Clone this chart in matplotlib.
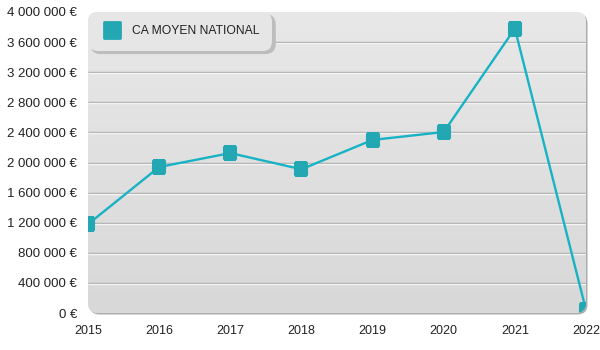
import numpy as np
import matplotlib
matplotlib.use('Agg')
import matplotlib.pyplot as plt
from matplotlib.patches import FancyBboxPatch
from matplotlib.markers import MarkerStyle
from matplotlib.lines import Line2D
from matplotlib.ticker import FuncFormatter
import matplotlib.transforms as mtrans

plt.rcParams['font.family'] = ['Liberation Sans', 'DejaVu Sans']

# CA moyen national par annee
years = [2015, 2016, 2017, 2018, 2019, 2020, 2021, 2022]
ca = [1180000, 1940000, 2125000, 1910000, 2300000, 2405000, 3780000, 40000]
yticks = [0, 400000, 800000, 1200000, 1600000, 2000000, 2400000,
          2800000, 3200000, 3600000, 4000000]
label = 'CA MOYEN NATIONAL'

line_col = '#17b3c5'
mark_col = '#23a8b3'
txt_col = '#222222'

W, H = 600, 350
fig = plt.figure(figsize=(W/100, H/100), dpi=100)
fig.patch.set_facecolor('white')

# axes box in pixels
x0, x1, y0, y1 = 88, 586, 12, 313
ax = fig.add_axes([x0/W, 1-y1/H, (x1-x0)/W, (y1-y0)/H])
ax.set_xlim(2015, 2022)
ax.set_ylim(0, 4000000)
ax.set_frame_on(False)
ax.patch.set_visible(False)

aw, ah = x1-x0, y1-y0
r = 10/aw
# drop shadow behind the rounded plot area
shadow = FancyBboxPatch((0, 0), 1, 1, boxstyle='round,pad=0,rounding_size=%g' % r,
                        mutation_aspect=aw/ah, transform=ax.transAxes + mtrans.ScaledTranslation(1.5/100, -1.5/100, fig.dpi_scale_trans),
                        facecolor='#acacac', edgecolor='none', zorder=0, clip_on=False)
ax.add_patch(shadow)
bg = FancyBboxPatch((0, 0), 1, 1, boxstyle='round,pad=0,rounding_size=%g' % r,
                    mutation_aspect=aw/ah, transform=ax.transAxes,
                    facecolor='#e0e0e0', edgecolor='none', zorder=0.5, clip_on=False)
ax.add_patch(bg)

# vertical gradient fill, light at the top
grad = np.linspace(0, 1, 256).reshape(-1, 1)
cmap = matplotlib.colors.LinearSegmentedColormap.from_list('bg', ['#e8e8e8', '#d8d8d8'])
im = ax.imshow(grad, extent=(2015, 2022, 0, 4000000), origin='upper', aspect='auto',
               cmap=cmap, zorder=1, interpolation='bilinear')
im.set_clip_path(bg)

# embossed grid lines
down1 = ax.transData + mtrans.ScaledTranslation(0, -1/100, fig.dpi_scale_trans)
for v in yticks[1:-1]:
    ax.plot([2015, 2022], [v, v], color='#a9a9a9', lw=1, zorder=2, solid_capstyle='butt')
    ax.plot([2015, 2022], [v, v], color='#f4f4f4', lw=1, zorder=2, transform=down1,
            solid_capstyle='butt')

msq = MarkerStyle('s', joinstyle='round')
ln, = ax.plot(years, ca, color=line_col, lw=1.7, zorder=3,
              marker=msq, ms=8, mfc=mark_col, mec=mark_col, mew=1.5)
ln.set_clip_path(bg)

ax.set_xticks(years)
ax.set_yticks(yticks)
ax.yaxis.set_major_formatter(FuncFormatter(lambda v, p: '{:,.0f} €'.format(v).replace(',', ' ')))
ax.tick_params(length=0, labelsize=9.5, colors=txt_col)
ax.tick_params(axis='y', pad=8)
ax.tick_params(axis='x', pad=9, labelsize=9)

handle = Line2D([], [], ls='none', marker=msq, ms=12, mfc=mark_col, mec=mark_col, mew=2)
leg = ax.legend([handle], [label], loc='upper left', bbox_to_anchor=(0, 1),
                borderaxespad=0, fancybox=True, shadow={'color': '#bdbdbd', 'alpha': 1},
                facecolor='#e6e6e6', edgecolor='none', framealpha=1, fontsize=8.7,
                borderpad=1.1, handletextpad=0.8, handlelength=1.7, labelcolor=txt_col)
leg.get_frame().set_boxstyle('round', pad=0, rounding_size=0.8)
leg.set_zorder(5)

fig.savefig('out.png', dpi=100)
